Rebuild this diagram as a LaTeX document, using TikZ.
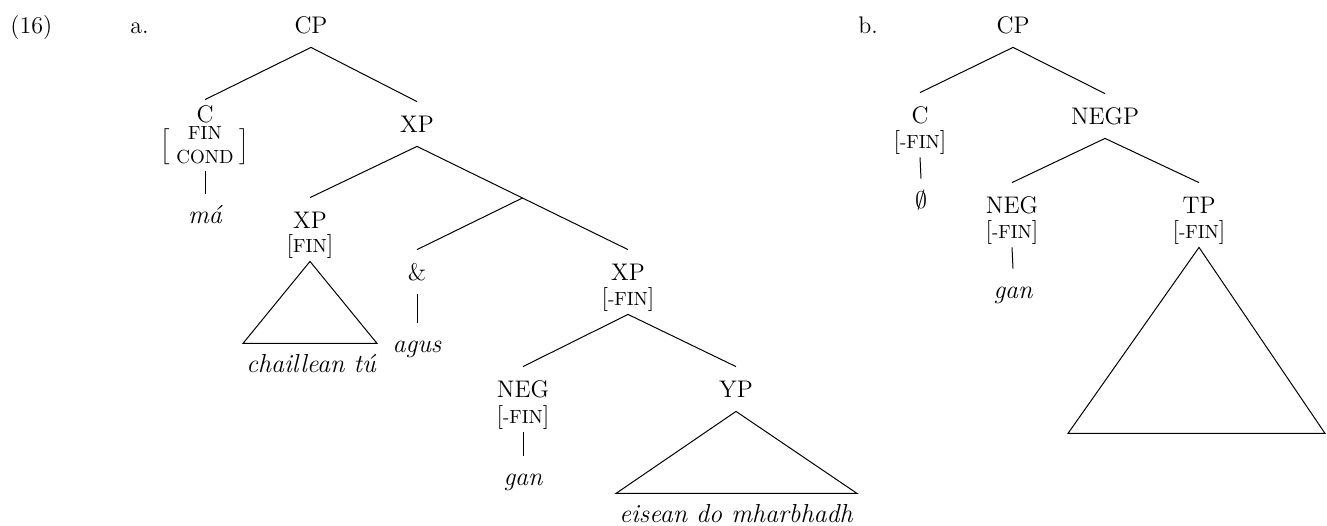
\documentclass[tikz,border=0pt]{standalone}
\usetikzlibrary{calc}
\newcommand{\fsc}[1]{{\fontsize{9.5}{10}\selectfont #1}}
\begin{document}
\begin{tikzpicture}[x=0.5pt,y=-0.5pt,
  every node/.style={inner sep=0pt, font=\fontsize{12}{14}\selectfont},
  cat/.style={anchor=base, text height=15pt, text depth=7pt},
  feat/.style={anchor=base, text height=9pt, text depth=4.5pt},
  leaf/.style={anchor=base, text height=14.5pt, text depth=3pt, font=\fontsize{13}{15}\selectfont\itshape},
  lbl/.style={anchor=base west},
  edge/.style={line width=0.5pt}]
\useasboundingbox (0,0) rectangle (1327,525);
% labels
\node[lbl] (num) at (10,33) {(16)};
\node[lbl] (la) at (130,33) {a.};
\node[lbl] (lb) at (858,33) {b.};
% tree a
\node[cat] (cpa) at (311,33) {CP};
\node[cat, text height=11pt, text depth=0pt] (ca) at (205,122) {C};
\node[font=\fontsize{10}{12}\selectfont] (caf) at (205,147)
  {$\Big[\begin{tabular}{@{\hspace{3pt}}c@{\hspace{3pt}}}\fsc{FIN}\\\fsc{COND}\end{tabular}\Big]$};
\node[leaf] (ma) at (205,223) {má};
\node[cat] (xpa) at (417,132) {XP};
\node[cat] (xpf) at (310,228) {XP};
\node[feat] (xpff) at (310,252) {[\fsc{FIN}]};
\node[leaf] (chail) at (311,372) {chaillean tú};
\node[cat] (amp) at (417,280) {\&};
\node[leaf] (agus) at (417,352) {agus};
\node[cat] (xpm) at (628,280) {XP};
\node[feat] (xpmf) at (628,305) {[\fsc{-FIN}]};
\coordinate (mid) at ($(xpa.south)!0.5!(xpm.north)$);
\node[cat] (nega) at (523,397) {NEG};
\node[feat] (negaf) at (523,423) {[\fsc{-FIN}]};
\node[leaf] (gana) at (523,485) {gan};
\node[cat] (yp) at (736,397) {YP};
\node[leaf] (eis) at (736,522) {eisean do mharbhadh};
\draw[edge] (cpa.south) -- (ca.north);
\draw[edge] (cpa.south) -- (xpa.north);
\draw[edge] (caf.south) -- (ma.north);
\draw[edge] (xpa.south) -- (xpf.north);
\draw[edge] (xpa.south) -- (xpm.north);
\draw[edge] (mid) -- (amp.north);
\draw[edge] (amp.south) -- (agus.north);
\draw[edge] (xpff.south) -- ++(-67,82) -- ++(134,0) -- cycle;
\draw[edge] (xpmf.south) -- (nega.north);
\draw[edge] (xpmf.south) -- (yp.north);
\draw[edge] (negaf.south) -- (gana.north);
\draw[edge] (yp.south) -- ++(-120,82) -- ++(241,0) -- cycle;
% tree b
\node[cat] (cpb) at (1013,33) {CP};
\node[cat] (cb) at (920,123) {C};
\node[feat] (cbf) at (920,148) {[\fsc{-FIN}]};
\node[leaf, font=\fontsize{13}{15}\selectfont] (empty) at (921,208) {$\emptyset$};
\node[cat] (negp) at (1105,124) {NEGP};
\node[cat] (negb) at (1012,213) {NEG};
\node[feat] (negbf) at (1012,238) {[\fsc{-FIN}]};
\node[leaf] (ganb) at (1013,298) {gan};
\node[cat] (tp) at (1199,213) {TP};
\node[feat] (tpf) at (1199,238) {[\fsc{-FIN}]};
\draw[edge] (cpb.south) -- (cb.north);
\draw[edge] (cpb.south) -- (negp.north);
\draw[edge] (cbf.south) -- (empty.north);
\draw[edge] (negp.south) -- (negb.north);
\draw[edge] (negp.south) -- (tp.north);
\draw[edge] (negbf.south) -- (ganb.north);
\draw[edge] (tpf.south) -- ++(-131,186) -- ++(257,0) -- cycle;
\end{tikzpicture}
\end{document}
